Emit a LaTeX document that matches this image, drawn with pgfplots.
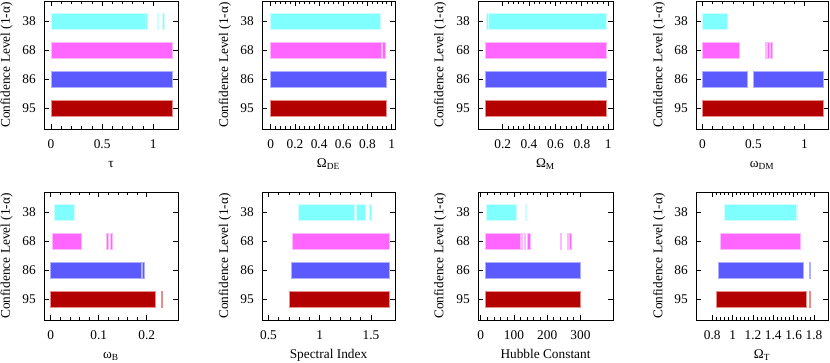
\documentclass[border=0pt]{standalone}
\usepackage{fontspec}
\setmainfont{Liberation Serif}
\usepackage{pgfplots}
\pgfplotsset{compat=1.18}
\definecolor{cA}{RGB}{128,255,255}\definecolor{eA}{RGB}{205,255,255}
\definecolor{cB}{RGB}{255,102,255}\definecolor{eB}{RGB}{255,185,255}
\definecolor{cC}{RGB}{90,90,255}\definecolor{eC}{RGB}{175,175,255}
\definecolor{cD}{RGB}{179,0,0}\definecolor{eD}{RGB}{232,140,140}
\pgfplotsset{
  bA/.style={fill=cA,draw=eA,line width=0.7pt},
  bB/.style={fill=cB,draw=eB,line width=0.7pt},
  bC/.style={fill=cC,draw=eC,line width=0.7pt},
  bD/.style={fill=cD,draw=eD,line width=0.7pt},
  panel/.style={
    scale only axis, height=96pt, y dir=reverse, ymin=0.3, ymax=4.7,
    ytick={1,2,3,4}, yticklabels={38,68,86,95},
    ylabel={Confidence Level (1-α)},
    ylabel style={at={(axis description cs:-0.28,0.5)}, anchor=center},
    xlabel style={at={(axis description cs:0.5,0)}, anchor=base, yshift=-28.5pt},
    xticklabel style={anchor=base, yshift=-14.6pt},
    yticklabel style={anchor=east, inner sep=0pt, xshift=-6pt},
    tick align=inside, major tick length=4pt, minor tick length=2.5pt,
    minor x tick num=4,
    /pgf/number format/assume math mode=true,
    axis line style={line width=0.7pt},
    every tick/.style={black, line width=0.6pt},
    enlargelimits=false,
  },
}
% one segment of an interval: #1 = left end, #2 = right end
\newcommand\sA[2]{\addplot[bA] coordinates {(#1,0.725) (#2,0.725) (#2,1.275) (#1,1.275)} -- cycle;}
\newcommand\sB[2]{\addplot[bB] coordinates {(#1,1.725) (#2,1.725) (#2,2.275) (#1,2.275)} -- cycle;}
\newcommand\sC[2]{\addplot[bC] coordinates {(#1,2.725) (#2,2.725) (#2,3.275) (#1,3.275)} -- cycle;}
\newcommand\sD[2]{\addplot[bD] coordinates {(#1,3.725) (#2,3.725) (#2,4.275) (#1,4.275)} -- cycle;}
\begin{document}
\begin{tikzpicture}
\path[use as bounding box] (0,0) rectangle (622.5pt,271.5pt);
% ---- tau
\begin{axis}[panel, at={(33pt,174.75pt)}, anchor=south west, width=100.5pt,
  xmin=-0.069, xmax=1.242, xtick={0,0.5,1}, xlabel={τ}]
\sA{0}{0.92}\sA{0.928}{0.94}\sA{1.04}{1.055}\sA{1.088}{1.11}
\sB{0}{1.19}
\sC{0}{1.19}
\sD{0}{1.19}
\end{axis}
% ---- Omega_DE
\begin{axis}[panel, at={(196.5pt,174.75pt)}, anchor=south west, width=99.75pt,
  xmin=-0.072, xmax=1.027, xtick={0,0.2,0.4,0.6,0.8,1}, xlabel={Ω\textsubscript{DE}}]
\sA{0}{0.91}
\sB{0}{0.915}\sB{0.925}{0.945}
\sC{0}{0.953}
\sD{0}{0.953}
\end{axis}
% ---- Omega_M
\begin{axis}[panel, at={(358.5pt,174.75pt)}, anchor=south west, width=101.25pt,
  xmin=0.013, xmax=1.036, xtick={0.2,0.4,0.6,0.8,1}, xlabel={Ω\textsubscript{M}}]
\sA{0.074}{0.09}\sA{0.094}{0.988}
\sB{0.066}{0.988}
\sC{0.066}{0.988}
\sD{0.066}{0.988}
\end{axis}
% ---- omega_DM
\begin{axis}[panel, at={(522pt,174.75pt)}, anchor=south west, width=99pt,
  xmin=-0.062, xmax=1.232, xtick={0,0.5,1}, xlabel={ω\textsubscript{DM}}]
\sA{0}{0.25}
\sB{0}{0.36}\sB{0.615}{0.628}\sB{0.643}{0.656}\sB{0.672}{0.688}
\sC{0}{0.44}\sC{0.50}{1.19}
\sD{0}{1.19}
\end{axis}
% ---- omega_B
\begin{axis}[panel, at={(33pt,31.5pt)}, anchor=south west, width=100.5pt,
  xmin=-0.014, xmax=0.265, xtick={0,0.1,0.2}, xlabel={ω\textsubscript{B}}]
\sA{0.0075}{0.049}
\sB{0.004}{0.064}\sB{0.1167}{0.1195}\sB{0.1235}{0.1285}
\sC{0}{0.188}\sC{0.192}{0.1945}
\sD{0}{0.218}\sD{0.2298}{0.2328}
\end{axis}
% ---- spectral index
\begin{axis}[panel, at={(196.5pt,31.5pt)}, anchor=south west, width=99.75pt,
  xmin=0.437, xmax=1.735, xtick={0.5,1,1.5}, xlabel={Spectral Index}]
\sA{0.795}{1.341}\sA{1.355}{1.446}\sA{1.487}{1.503}
\sB{0.734}{1.683}
\sC{0.721}{1.683}
\sD{0.707}{1.683}
\end{axis}
% ---- Hubble constant
\begin{axis}[panel, at={(358.5pt,31.5pt)}, anchor=south west, width=101.25pt,
  xmin=-8, xmax=398, xtick={0,100,200,300}, xlabel={Hubble Constant}]
\sA{17}{108}\sA{134}{139}
\sB{15}{119}\sB{122}{125}\sB{131}{136}\sB{140}{151}\sB{240}{244}\sB{260}{264}\sB{267}{273}
\sC{15}{299}
\sD{15}{299}
\end{axis}
% ---- Omega_T
\begin{axis}[panel, at={(522pt,31.5pt)}, anchor=south west, width=99pt,
  xmin=0.64, xmax=1.938, xtick={0.8,1,1.2,1.4,1.6,1.8}, xlabel={Ω\textsubscript{T}}]
\sA{0.918}{1.626}\sA{1.632}{1.642}
\sB{0.88}{1.67}
\sC{0.86}{1.70}\sC{1.755}{1.768}
\sD{0.846}{1.728}\sD{1.752}{1.768}
\end{axis}
\end{tikzpicture}
\end{document}
